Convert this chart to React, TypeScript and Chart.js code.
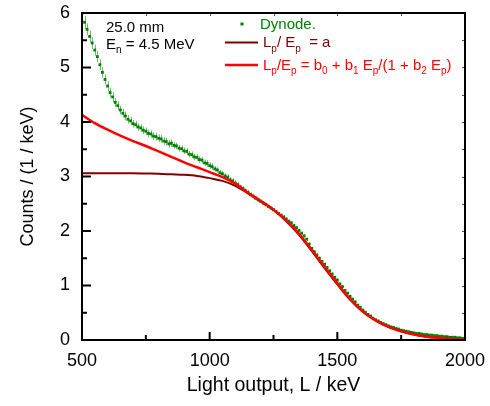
import React, { useEffect, useRef } from "react";
import { Chart, registerables } from "chart.js";
Chart.register(...registerables);

const energies = [
  500, 510, 520, 530, 540, 550, 560, 570, 580, 590, 600, 610, 620, 630, 640, 650, 660, 670, 680, 690,
  700, 710, 720, 730, 740, 750, 760, 770, 780, 790, 800, 810, 820, 830, 840, 850, 860, 870, 880, 890,
  900, 910, 920, 930, 940, 950, 960, 970, 980, 990, 1000, 1010, 1020, 1030, 1040, 1050, 1060, 1070, 1080, 1090,
  1100, 1110, 1120, 1130, 1140, 1150, 1160, 1170, 1180, 1190, 1200, 1210, 1220, 1230, 1240, 1250, 1260, 1270, 1280, 1290,
  1300, 1310, 1320, 1330, 1340, 1350, 1360, 1370, 1380, 1390, 1400, 1410, 1420, 1430, 1440, 1450, 1460, 1470, 1480, 1490,
  1500, 1510, 1520, 1530, 1540, 1550, 1560, 1570, 1580, 1590, 1600, 1610, 1620, 1630, 1640, 1650, 1660, 1670, 1680, 1690,
  1700, 1710, 1720, 1730, 1740, 1750, 1760, 1770, 1780, 1790, 1800, 1810, 1820, 1830, 1840, 1850, 1860, 1870, 1880, 1890,
  1900, 1910, 1920, 1930, 1940, 1950, 1960, 1970, 1980, 1990, 2000,
];

const dynodeCounts = [
  6.0, 5.83, 5.7, 5.57, 5.45, 5.32, 5.2, 5.05, 4.91, 4.78, 4.66, 4.54, 4.46, 4.36, 4.3, 4.22, 4.16, 4.11, 4.05, 4.02,
  3.97, 3.95, 3.91, 3.89, 3.85, 3.83, 3.79, 3.78, 3.74, 3.73, 3.7, 3.69, 3.65, 3.64, 3.6, 3.61, 3.57, 3.56, 3.52, 3.51,
  3.47, 3.46, 3.41, 3.4, 3.36, 3.35, 3.31, 3.3, 3.25, 3.24, 3.2, 3.18, 3.14, 3.12, 3.07, 3.05, 3.01, 2.99, 2.94, 2.92,
  2.88, 2.85, 2.81, 2.78, 2.74, 2.71, 2.67, 2.64, 2.6, 2.57, 2.54, 2.51, 2.48, 2.45, 2.42, 2.39, 2.36, 2.32, 2.29, 2.26,
  2.22, 2.18, 2.15, 2.1, 2.06, 2.01, 1.96, 1.91, 1.85, 1.76, 1.68, 1.62, 1.56, 1.5, 1.44, 1.39, 1.33, 1.27, 1.21, 1.15,
  1.1, 1.03, 0.98, 0.91, 0.86, 0.8, 0.75, 0.7, 0.64, 0.6, 0.55, 0.51, 0.47, 0.44, 0.4, 0.37, 0.35, 0.32, 0.3, 0.28,
  0.26, 0.24, 0.23, 0.21, 0.2, 0.18, 0.17, 0.16, 0.15, 0.14, 0.13, 0.12, 0.12, 0.11, 0.1, 0.1, 0.09, 0.09, 0.08, 0.08,
  0.07, 0.07, 0.06, 0.06, 0.05, 0.05, 0.05, 0.04, 0.04, 0.03, 0.03,
];

const dynodeErrors = [
  0.12, 0.12, 0.11, 0.11, 0.11, 0.1, 0.1, 0.1, 0.1, 0.09, 0.09, 0.09, 0.09, 0.08, 0.08, 0.08, 0.08, 0.08, 0.08, 0.08,
  0.07, 0.07, 0.07, 0.07, 0.07, 0.07, 0.07, 0.07, 0.07, 0.07, 0.07, 0.07, 0.07, 0.07, 0.07, 0.07, 0.06, 0.06, 0.06, 0.06,
  0.06, 0.06, 0.06, 0.06, 0.06, 0.06, 0.06, 0.06, 0.06, 0.06, 0.06, 0.06, 0.05, 0.05, 0.05, 0.05, 0.05, 0.05, 0.05, 0.05,
  0.05, 0.05, 0.04, 0.04, 0.04, 0.04, 0.04, 0.04, 0.04, 0.04, 0.04, 0.03, 0.03, 0.03, 0.03, 0.03, 0.03, 0.03, 0.03, 0.03,
  0.03, 0.03, 0.03, 0.03, 0.03, 0.03, 0.03, 0.03, 0.03, 0.03, 0.03, 0.03, 0.03, 0.03, 0.03, 0.03, 0.03, 0.03, 0.03, 0.03,
  0.03, 0.02, 0.02, 0.02, 0.02, 0.02, 0.02, 0.02, 0.02, 0.02, 0.02, 0.02, 0.02, 0.02, 0.02, 0.02, 0.02, 0.02, 0.02, 0.02,
  0.02, 0.02, 0.02, 0.02, 0.02, 0.02, 0.02, 0.02, 0.02, 0.02, 0.02, 0.02, 0.02, 0.02, 0.02, 0.02, 0.02, 0.02, 0.02, 0.02,
  0.02, 0.02, 0.02, 0.02, 0.02, 0.02, 0.02, 0.02, 0.02, 0.02, 0.02,
];

const fitEnergies = [
  500, 550, 600, 650, 700, 750, 800, 850, 900, 950, 1000, 1050, 1100, 1150, 1200, 1250,
  1300, 1350, 1400, 1450, 1500, 1550, 1600, 1650, 1700, 1750, 1800, 1850, 1900, 1950, 2000,
];

const fitConstA = [
  3.06, 3.06, 3.06, 3.06, 3.06, 3.055, 3.05, 3.04, 3.03, 3.01, 2.97, 2.92, 2.83, 2.69, 2.55, 2.39,
  2.18, 1.93, 1.63, 1.32, 1.02, 0.74, 0.52, 0.36, 0.24, 0.16, 0.1, 0.06, 0.04, 0.02, 0.01,
];

const fitRational = [
  4.13, 3.98, 3.86, 3.75, 3.65, 3.56, 3.46, 3.36, 3.26, 3.17, 3.08, 2.99, 2.87, 2.7, 2.55, 2.39,
  2.19, 1.95, 1.65, 1.34, 1.04, 0.75, 0.52, 0.36, 0.24, 0.16, 0.1, 0.06, 0.04, 0.02, 0.01,
];

const xTicks = [500, 1000, 1500, 2000];
const xMinorTicks = [750, 1250, 1750];
const yTicks = [0, 1, 2, 3, 4, 5, 6];
const yMinorTicks = [0.5, 1.5, 2.5, 3.5, 4.5, 5.5];

const FONT = '"Liberation Sans", Arial, Helvetica, sans-serif';
const GREEN = "#008000";
const DARKRED = "#800000";
const RED = "#ff0000";

type Part = [string, boolean];

function rich(ctx: CanvasRenderingContext2D, x: number, y: number, parts: Part[], size: number, color: string) {
  let cx = x;
  ctx.fillStyle = color;
  ctx.textBaseline = "alphabetic";
  ctx.textAlign = "left";
  for (const [t, sub] of parts) {
    const s = sub ? Math.round(size * 0.68) : size;
    ctx.font = `${s}px ${FONT}`;
    ctx.fillText(t, cx, sub ? y + size * 0.3 : y);
    cx += ctx.measureText(t).width;
  }
}

const decor = {
  id: "decor",
  beforeDatasetsDraw(chart: any) {
    const { ctx, chartArea: a, scales } = chart;
    const x = scales.x, y = scales.y;
    ctx.save();
    ctx.beginPath();
    ctx.rect(a.left, a.top, a.right - a.left, a.bottom - a.top);
    ctx.clip();
    ctx.strokeStyle = "rgba(60,170,60,0.75)";
    ctx.lineWidth = 1;
    ctx.beginPath();
    for (let i = 0; i < energies.length; i++) {
      const px = Math.round(x.getPixelForValue(energies[i])) + 0.5;
      ctx.moveTo(px, y.getPixelForValue(dynodeCounts[i] + dynodeErrors[i]));
      ctx.lineTo(px, y.getPixelForValue(dynodeCounts[i] - dynodeErrors[i]));
    }
    ctx.stroke();
    ctx.restore();
  },
  afterDraw(chart: any) {
    const { ctx, chartArea: a, scales } = chart;
    const x = scales.x, y = scales.y;
    ctx.save();
    ctx.strokeStyle = "#000";
    ctx.lineWidth = 2;
    ctx.beginPath();
    for (const v of xTicks) {
      const px = x.getPixelForValue(v);
      ctx.moveTo(px, a.bottom);
      ctx.lineTo(px, a.bottom - 8);
    }
    for (const v of xMinorTicks) {
      const px = x.getPixelForValue(v);
      ctx.moveTo(px, a.bottom);
      ctx.lineTo(px, a.bottom - 5);
    }
    for (const v of yTicks) {
      const py = y.getPixelForValue(v);
      ctx.moveTo(a.left, py);
      ctx.lineTo(a.left + 9, py);
    }
    for (const v of yMinorTicks) {
      const py = y.getPixelForValue(v);
      ctx.moveTo(a.left, py);
      ctx.lineTo(a.left + 5, py);
    }
    ctx.stroke();
    ctx.lineWidth = 1;
    ctx.strokeStyle = "#555";
    ctx.beginPath();
    for (const v of [...xTicks, ...xMinorTicks]) {
      const px = Math.round(x.getPixelForValue(v)) + 0.5;
      ctx.moveTo(px, a.top);
      ctx.lineTo(px, a.top + 3);
    }
    for (const v of [...yTicks, ...yMinorTicks]) {
      const py = Math.round(y.getPixelForValue(v)) + 0.5;
      ctx.moveTo(a.right, py);
      ctx.lineTo(a.right - 3, py);
    }
    ctx.stroke();
    ctx.strokeStyle = "#000";
    ctx.lineWidth = 2;
    ctx.strokeRect(a.left, a.top, a.right - a.left, a.bottom - a.top);

    rich(ctx, 106, 32, [["25.0 mm", false]], 15, "#000");
    rich(ctx, 106, 48.5, [["E", false], ["n", true], [" = 4.5 MeV", false]], 15, "#000");

    ctx.fillStyle = GREEN;
    ctx.fillRect(240.5, 22.5, 3, 3);
    rich(ctx, 260, 28.5, [["Dynode.", false]], 15, GREEN);

    ctx.lineWidth = 2;
    ctx.strokeStyle = DARKRED;
    ctx.beginPath();
    ctx.moveTo(225, 42.5);
    ctx.lineTo(258, 42.5);
    ctx.stroke();
    rich(ctx, 263, 47, [["L", false], ["p", true], ["/ E", false], ["p", true], ["  = a", false]], 15, DARKRED);

    ctx.lineWidth = 2.5;
    ctx.strokeStyle = RED;
    ctx.beginPath();
    ctx.moveTo(225, 65);
    ctx.lineTo(258, 65);
    ctx.stroke();
    rich(
      ctx,
      263,
      69.5,
      [
        ["L", false], ["p", true], ["/E", false], ["p", true], [" = b", false], ["0", true],
        [" + b", false], ["1", true], [" E", false], ["p", true], ["/(1 + b", false], ["2", true],
        [" E", false], ["p", true], [")", false],
      ],
      15,
      RED
    );
    ctx.restore();
  },
};

export default function App() {
  const ref = useRef<HTMLCanvasElement>(null);
  useEffect(() => {
    if (!ref.current) return;
    const chart = new Chart(ref.current, {
      type: "scatter",
      data: {
        datasets: [
          {
            label: "Dynode.",
            data: energies.map((e, i) => ({ x: e, y: dynodeCounts[i] })),
            showLine: false,
            pointStyle: "rect",
            pointRadius: 2,
            pointBorderWidth: 0,
            backgroundColor: GREEN,
            borderColor: GREEN,
            order: 3,
          },
          {
            label: "Lp / Ep = a",
            data: fitEnergies.map((e, i) => ({ x: e, y: fitConstA[i] })),
            showLine: true,
            pointRadius: 0,
            borderColor: DARKRED,
            borderWidth: 2,
            cubicInterpolationMode: "monotone",
            order: 2,
          },
          {
            label: "Lp/Ep = b0 + b1 Ep/(1 + b2 Ep)",
            data: fitEnergies.map((e, i) => ({ x: e, y: fitRational[i] })),
            showLine: true,
            pointRadius: 0,
            borderColor: RED,
            borderWidth: 2.5,
            cubicInterpolationMode: "monotone",
            order: 1,
          },
        ],
      },
      options: {
        animation: false,
        responsive: false,
        devicePixelRatio: 1,
        layout: { padding: { top: 13, right: 25, left: 0, bottom: 0 } },
        plugins: { legend: { display: false }, tooltip: { enabled: false } },
        scales: {
          x: {
            type: "linear",
            min: 500,
            max: 2000,
            afterFit: (s: any) => {
              s.height = 66;
              s.paddingLeft = 0;
              s.paddingRight = 0;
            },
            afterBuildTicks: (s: any) => {
              s.ticks = xTicks.map((v) => ({ value: v }));
            },
            grid: { display: false, drawTicks: false },
            border: { display: false },
            ticks: {
              color: "#000",
              font: { family: FONT, size: 18 },
              padding: 10,
              maxRotation: 0,
              callback: (v: any) => String(v),
            },
            title: {
              display: true,
              text: "Light output, L / keV",
              color: "#000",
              font: { family: FONT, size: 19.5 },
              padding: { top: 0, bottom: 9 },
            },
          },
          y: {
            type: "linear",
            min: 0,
            max: 6,
            afterFit: (s: any) => {
              s.width = 82;
              s.paddingTop = 0;
              s.paddingBottom = 0;
            },
            afterBuildTicks: (s: any) => {
              s.ticks = yTicks.map((v) => ({ value: v }));
            },
            grid: { display: false, drawTicks: false },
            border: { display: false },
            ticks: { color: "#000", font: { family: FONT, size: 18 }, padding: 12, callback: (v: any) => String(v) },
            title: {
              display: true,
              text: "Counts / (1 / keV)",
              color: "#000",
              font: { family: FONT, size: 18 },
              padding: { top: 17, bottom: 0 },
            },
          },
        },
      },
      plugins: [decor],
    } as any);
    return () => chart.destroy();
  }, []);
  return (
    <div style={{ position: "absolute", left: 0, top: 0, width: 490, height: 406, background: "#fff" }}>
      <canvas ref={ref} width={490} height={406} style={{ display: "block" }} />
    </div>
  );
}
